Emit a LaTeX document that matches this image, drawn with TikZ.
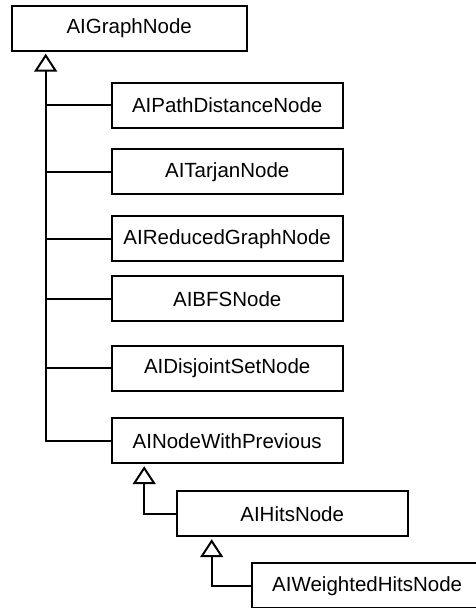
\documentclass[tikz,border=0pt]{standalone}
\usepackage{fontspec}
\setmainfont{Liberation Sans}
\usetikzlibrary{arrows.meta,positioning}

\begin{document}
\begin{tikzpicture}[x=1pt,y=1pt,node distance=0pt,
  block/.style={rectangle,draw=black,line width=2pt,fill=white,
                minimum width=231pt,minimum height=45pt,inner sep=0pt,
                font=\fontsize{20.5}{24}\selectfont},
  extends/.style={line width=2pt,shorten >=2pt,
                  -{Triangle[open,length=18pt,width=23pt]}},
  branch/.style={line width=2pt}]

  \clip (0,0) rectangle (476,-608);

  \node (graph) [block,minimum width=235pt] at (129.2,-28.2) {AIGraphNode};
  \node (path) [block,below right=30pt and 100pt of graph.south west]
    {AIPathDistanceNode};
  \node (tarjan) [block,below=19.5pt of path] {AITarjanNode};
  \node (reduced) [block,below=20pt of tarjan] {AIReducedGraphNode};
  \node (bfs) [block,below=13pt of reduced] {AIBFSNode};
  \node (disjoint) [block,below=22.5pt of bfs] {AIDisjointSetNode};
  \node (prev) [block,below=25.5pt of disjoint] {AINodeWithPrevious};
  \node (hits) [block,below right=26pt and 65pt of prev.south west]
    {AIHitsNode};
  \node (weighted) [block,below right=25pt and 75pt of hits.south west]
    {AIWeightedHitsNode};

  % taps under each parent
  \coordinate (gtap) at ([xshift=35pt]graph.south west);
  \coordinate (ptap) at ([xshift=33.5pt]prev.south west);
  \coordinate (htap) at ([xshift=36pt]hits.south west);

  % generalisation connectors
  \draw[extends] (prev.west) -| (gtap);
  \foreach \n in {path,tarjan,reduced,bfs,disjoint}{
    \draw[branch] (\n.west) -- (\n.west -| gtap);
  }
  \draw[extends] (hits.west) -| (ptap);
  \draw[extends] (weighted.west) -| (htap);
\end{tikzpicture}
\end{document}
